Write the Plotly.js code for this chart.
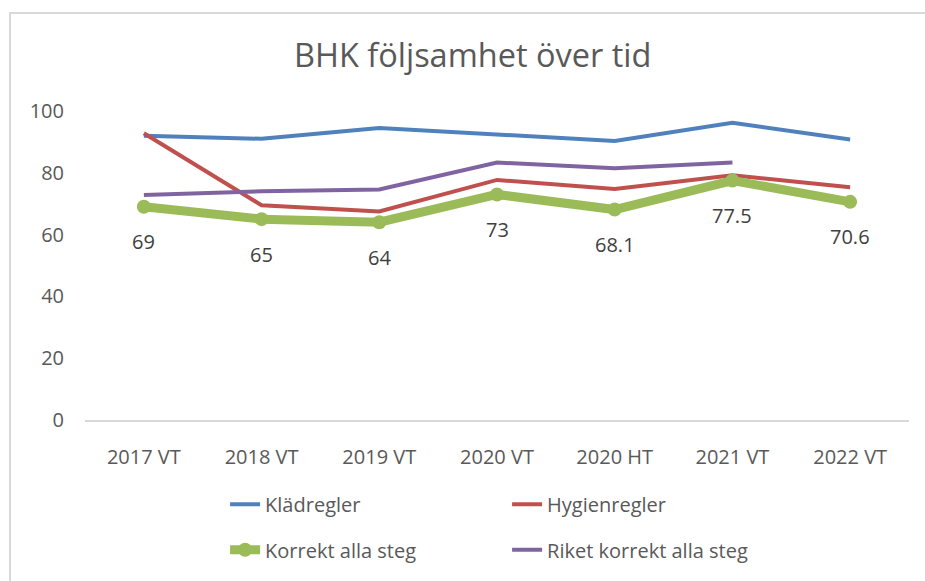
<!DOCTYPE html>
<html>
<head>
<meta charset="utf-8">
<script src="https://cdn.plot.ly/plotly-3.0.1.min.js"></script>
<style>
  html, body { margin: 0; padding: 0; background: #ffffff; }
  #wrap { position: relative; width: 925px; height: 581px; overflow: hidden; }
  #frame { position: absolute; left: 9px; top: 12px; width: 940px; height: 600px;
           border-left: 2px solid #d9d9d9; border-top: 2px solid #d9d9d9; box-sizing: border-box; }
  #chart { position: absolute; left: 0; top: 0; width: 925px; height: 581px; }
</style>
</head>
<body>
<div id="wrap">
  <div id="frame"></div>
  <div id="chart"></div>
</div>
<script>
const categories = ['2017 VT', '2018 VT', '2019 VT', '2020 VT', '2020 HT', '2021 VT', '2022 VT'];
const kladregler = [92.0, 91.0, 94.5, 92.3, 90.3, 96.2, 90.8];
const hygienregler = [92.8, 69.5, 67.5, 77.7, 74.8, 79.2, 75.3];
const korrektAllaSteg = [69, 65, 64, 73, 68.1, 77.5, 70.6];
const riketKorrekt = [72.8, 74.0, 74.6, 83.3, 81.5, 83.3, null];
const yTicks = [0, 20, 40, 60, 80, 100];

const FONT = 'Open Sans, Noto Sans, sans-serif';

const traces = [
  { x: categories, y: kladregler, name: 'Klädregler', type: 'scatter', mode: 'lines',
    line: { color: '#4f81bd', width: 4 }, legend: 'legend' },
  { x: categories, y: hygienregler, name: 'Hygienregler', type: 'scatter', mode: 'lines',
    line: { color: '#c0504d', width: 4 }, legend: 'legend' },
  { x: categories, y: korrektAllaSteg, name: 'Korrekt alla steg', type: 'scatter', mode: 'lines+markers',
    line: { color: '#9bbb59', width: 9 }, marker: { color: '#9bbb59', size: 14 }, legend: 'legend2' },
  { x: categories, y: riketKorrekt, name: 'Riket korrekt alla steg', type: 'scatter', mode: 'lines',
    line: { color: '#8064a2', width: 4 }, connectgaps: false, legend: 'legend2' }
];

const annotations = korrektAllaSteg.map((v, i) => ({
  x: categories[i], y: v, xref: 'x', yref: 'y',
  text: String(v), showarrow: false, yshift: -35,
  font: { family: FONT, size: 20, color: '#404040' }
}));

const legendCommon = {
  orientation: 'h', entrywidth: 237, entrywidthmode: 'pixels',
  xanchor: 'left', yanchor: 'middle', bgcolor: 'rgba(0,0,0,0)',
  font: { family: FONT, size: 20, color: '#595959' },
  itemclick: false, itemdoubleclick: false, traceorder: 'normal'
};

const layout = {
  width: 925, height: 581,
  paper_bgcolor: 'rgba(0,0,0,0)', plot_bgcolor: 'rgba(0,0,0,0)',
  margin: { l: 85, r: 16, t: 111, b: 156 },
  title: { text: 'BHK följsamhet över tid', x: 0.511, xanchor: 'center',
           y: 1 - 56 / 581, yanchor: 'middle', yref: 'container',
           font: { family: FONT, size: 32.5, color: '#595959' } },
  xaxis: { type: 'category', range: [-0.5, categories.length - 0.5], showgrid: false, zeroline: false, showline: true,
           linecolor: '#d9d9d9', linewidth: 2, ticks: '', ticklabelstandoff: 18,
           tickfont: { family: FONT, size: 20, color: '#595959' }, fixedrange: true },
  yaxis: { range: [0, 100], tickvals: yTicks, showgrid: false, zeroline: false, showline: false,
           ticks: '', ticklabelstandoff: 20,
           tickfont: { family: FONT, size: 20, color: '#595959' }, fixedrange: true },
  legend: Object.assign({}, legendCommon, { x: 0.17, y: -0.273 }),
  legend2: Object.assign({}, legendCommon, { x: 0.17, y: -0.42 }),
  annotations: annotations,
  showlegend: true
};

Plotly.newPlot('chart', traces, layout, { displayModeBar: false, staticPlot: true });
</script>
</body>
</html>
